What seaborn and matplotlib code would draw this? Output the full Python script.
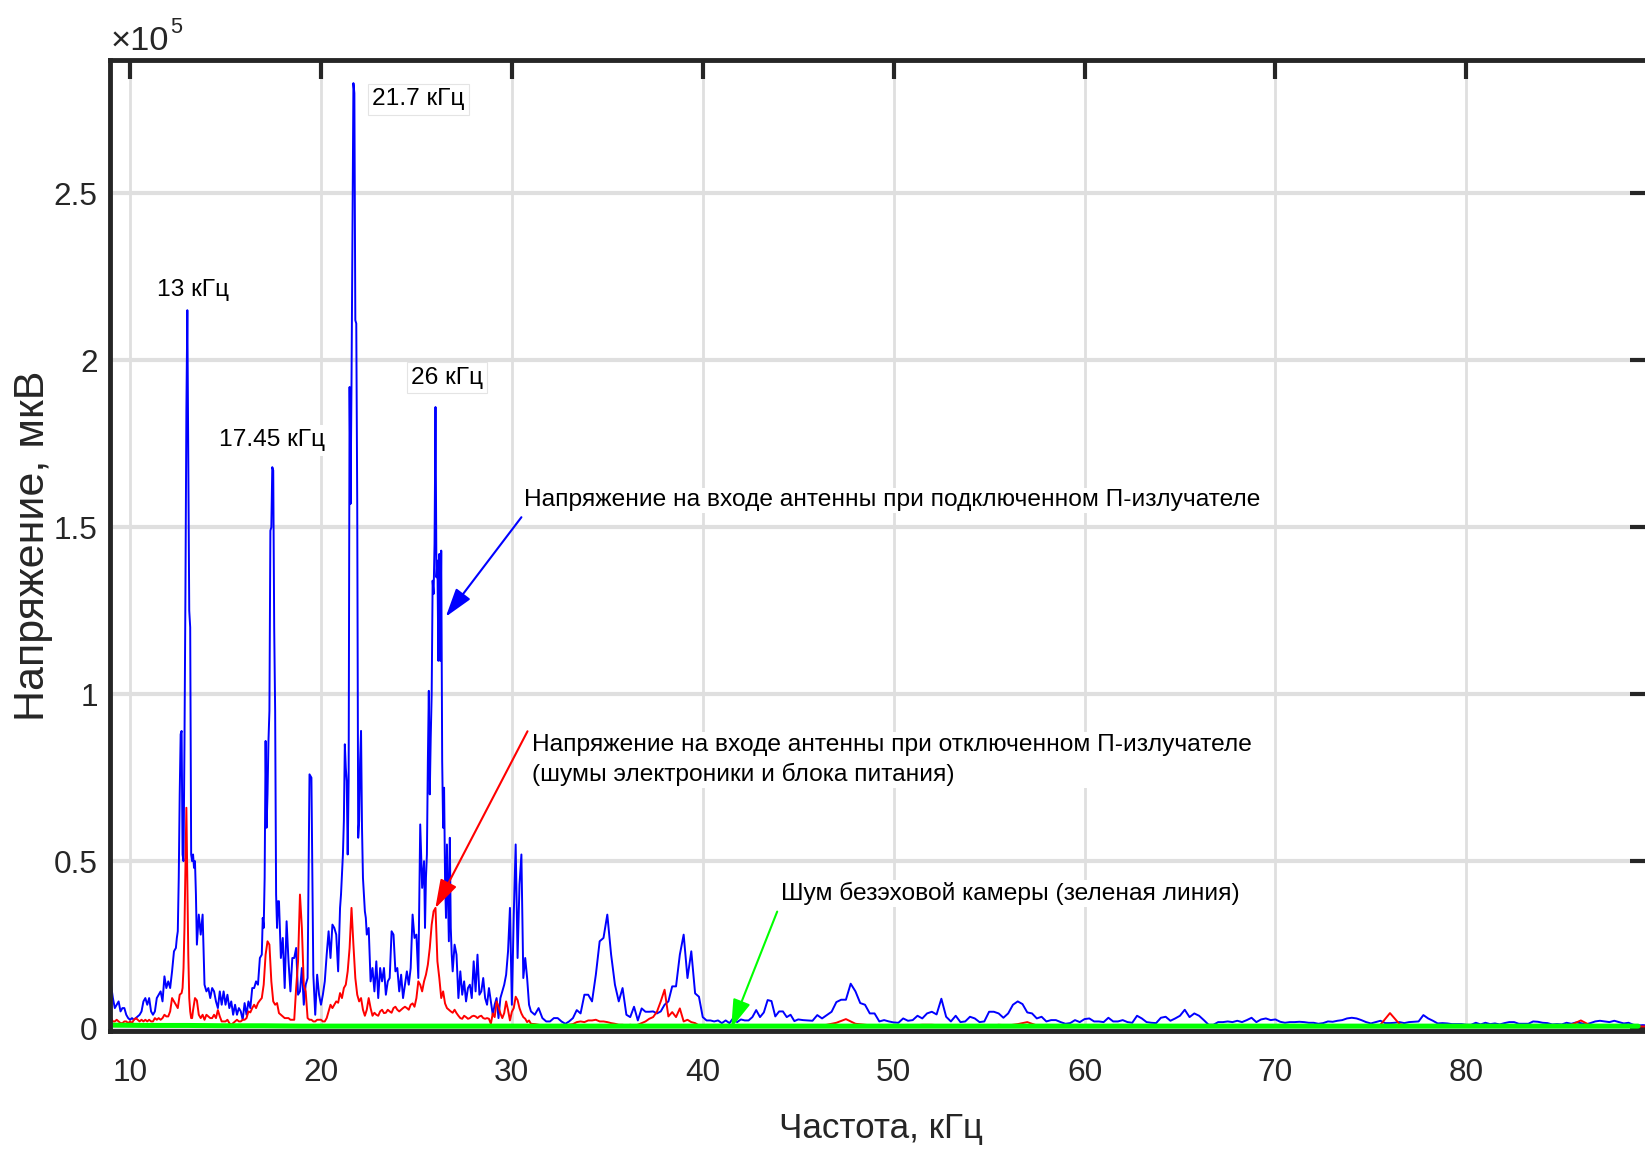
import numpy as np
import pandas as pd
import matplotlib
matplotlib.use("Agg")
import matplotlib.pyplot as plt
from matplotlib import font_manager
from matplotlib.ticker import FuncFormatter, MultipleLocator
import seaborn as sns

# Amplitudes are given in units of 10^5 uV; each segment is (start kHz, step kHz, values).
UNIT = 1e5

# --- antenna input, emitter connected (blue) ---
blue_a = [0.13, 0.09, 0.06, 0.07, 0.08, 0.05, 0.06, 0.06, 0.04, 0.03,
          0.025, 0.03, 0.025, 0.03, 0.035, 0.04, 0.05, 0.08, 0.09, 0.07,
          0.09, 0.05, 0.04, 0.05, 0.09, 0.10, 0.11, 0.08, 0.155, 0.12,
          0.14, 0.12, 0.17, 0.23, 0.24]
blue_b = [0.27, 0.29, 0.45, 0.70, 0.88, 0.89, 0.52, 0.50, 0.85, 1.30,
          1.85, 2.15, 1.70, 1.25, 1.20, 0.52, 0.50, 0.52, 0.48, 0.50,
          0.40, 0.25]
blue_c = [0.34, 0.28, 0.34, 0.13, 0.11, 0.12, 0.09, 0.12, 0.11, 0.08,
          0.06, 0.11, 0.07, 0.11, 0.07, 0.10, 0.06, 0.08, 0.04, 0.07,
          0.04, 0.06, 0.05, 0.025, 0.075, 0.04, 0.08, 0.06, 0.12, 0.12,
          0.14, 0.13, 0.21, 0.22]
blue_d = [0.33, 0.30, 0.45, 0.86, 0.60, 0.70, 0.86, 0.95, 1.49, 1.50,
          1.68, 1.67, 1.20, 0.95, 0.40, 0.30, 0.38]
blue_e = [0.38, 0.21, 0.27, 0.12, 0.32, 0.20, 0.11, 0.21, 0.21, 0.24,
          0.10, 0.11, 0.18, 0.07, 0.13, 0.15, 0.76, 0.75, 0.16, 0.04,
          0.16, 0.10, 0.07, 0.10, 0.14, 0.22, 0.29, 0.21, 0.31, 0.30,
          0.28, 0.17, 0.36]
blue_f = [0.40, 0.46, 0.52, 0.62, 0.85, 0.78, 0.74, 0.52, 0.74, 1.92,
          1.57, 1.93, 2.40, 2.83, 2.80, 2.12, 2.11, 1.57, 0.57, 0.62,
          0.80, 0.89, 0.60, 0.45, 0.40, 0.35, 0.33, 0.28]
blue_g = [0.30, 0.14, 0.18, 0.11, 0.20, 0.09, 0.18, 0.14, 0.18, 0.10,
          0.14, 0.15, 0.29, 0.28, 0.17, 0.18, 0.11, 0.16, 0.09, 0.13,
          0.17, 0.13, 0.18, 0.34, 0.27, 0.28, 0.15, 0.61, 0.42, 0.50]
blue_h = [0.30, 0.45, 0.52, 0.80, 1.01, 0.70, 0.87, 1.00, 1.34, 1.30,
          1.45, 1.86, 1.35, 1.40, 1.10, 1.42, 1.10, 1.43, 0.80, 0.60,
          0.72, 0.45, 0.33, 0.55, 0.40, 0.26, 0.57, 0.30, 0.22, 0.17]
blue_i = [0.25, 0.22, 0.09, 0.17, 0.10, 0.14, 0.08, 0.12, 0.13, 0.09,
          0.20, 0.11, 0.22, 0.10, 0.11, 0.15, 0.09, 0.07, 0.12, 0.08,
          0.04, 0.07, 0.09, 0.03, 0.09, 0.11, 0.13, 0.16, 0.23, 0.36,
          0.07, 0.34, 0.55, 0.21, 0.43, 0.52, 0.15, 0.21, 0.15, 0.07,
          0.05]
blue_j = [0.04, 0.06, 0.03, 0.02, 0.02, 0.03, 0.03, 0.02, 0.013, 0.02,
          0.03, 0.054, 0.044, 0.10, 0.10, 0.08, 0.16, 0.26, 0.27, 0.34,
          0.22, 0.13, 0.08, 0.12, 0.04, 0.033, 0.064, 0.023, 0.059, 0.049,
          0.049, 0.05, 0.044, 0.05, 0.07, 0.08, 0.125, 0.125, 0.22, 0.28,
          0.15, 0.23, 0.104, 0.094, 0.033, 0.023, 0.023, 0.02, 0.023, 0.015,
          0.023, 0.015, 0.03, 0.018, 0.026, 0.023, 0.023, 0.033, 0.054, 0.033,
          0.047, 0.084, 0.081, 0.035, 0.05, 0.05, 0.033, 0.04, 0.021]
blue_k = [0.026, 0.024, 0.023, 0.022,   # 45
          0.039, 0.029, 0.039, 0.049,   # 46
          0.078, 0.085, 0.085, 0.133,   # 47
          0.11, 0.075, 0.07, 0.044,     # 48
          0.044, 0.02, 0.024, 0.02,     # 49
          0.017, 0.016, 0.029, 0.022,   # 50
          0.024, 0.037, 0.029, 0.044,   # 51
          0.049, 0.041, 0.088, 0.034,   # 52
          0.02, 0.037, 0.018, 0.02,     # 53
          0.034, 0.029, 0.018, 0.02,    # 54
          0.049, 0.049, 0.044, 0.031,   # 55
          0.044, 0.07, 0.08, 0.072,     # 56
          0.047, 0.044, 0.029, 0.034,   # 57
          0.02, 0.024, 0.024, 0.018,    # 58
          0.013, 0.015, 0.024, 0.018,   # 59
          0.027, 0.029, 0.02, 0.02,     # 60
          0.018, 0.031, 0.02, 0.02,     # 61
          0.024, 0.018, 0.016, 0.037,   # 62
          0.029, 0.018, 0.016, 0.015,   # 63
          0.031, 0.034, 0.022, 0.029,   # 64
          0.037, 0.055, 0.033, 0.044,   # 65
          0.037, 0.024, 0.01, 0.01,     # 66
          0.018, 0.018, 0.02, 0.018,    # 67
          0.022, 0.018, 0.024, 0.031,   # 68
          0.018, 0.026, 0.029, 0.024,   # 69
          0.026, 0.019, 0.016, 0.018,   # 70
          0.018, 0.019, 0.018, 0.016,   # 71
          0.016, 0.013, 0.015, 0.02,    # 72
          0.019, 0.022, 0.024, 0.029,   # 73
          0.031, 0.029, 0.024, 0.018,   # 74
          0.014, 0.018, 0.022, 0.015,   # 75
          0.015, 0.016, 0.018, 0.015,   # 76
          0.018, 0.019, 0.02, 0.039,    # 77
          0.029, 0.022, 0.014, 0.015,   # 78
          0.014, 0.012, 0.012, 0.012,   # 79
          0.01, 0.01, 0.016, 0.011,     # 80
          0.016, 0.012, 0.014, 0.011,   # 81
          0.015, 0.018, 0.018, 0.013,   # 82
          0.013, 0.013, 0.02, 0.019,    # 83
          0.016, 0.015, 0.011, 0.012,   # 84
          0.011, 0.016, 0.013, 0.017,   # 85
          0.015, 0.011, 0.015, 0.02,    # 86
          0.022, 0.02, 0.018, 0.022,    # 87
          0.018, 0.014, 0.016, 0.01,    # 88
          0.008, 0.009, 0.008]          # 89
BLUE = [(9.0, 0.1, blue_a), (12.45, 0.05, blue_b), (13.6, 0.1, blue_c),
        (16.95, 0.05, blue_d), (17.8, 0.1, blue_e), (21.05, 0.05, blue_f),
        (22.5, 0.1, blue_g), (25.45, 0.05, blue_h), (27.0, 0.1, blue_i),
        (31.2, 0.2, blue_j), (45.0, 0.25, blue_k)]

# --- antenna input, emitter disconnected (red) ---
red_a = [0.03, 0.02, 0.02, 0.025, 0.02, 0.015, 0.015, 0.02, 0.02, 0.015,
         0.02, 0.015, 0.025, 0.03, 0.025, 0.02, 0.025, 0.02, 0.025, 0.02,
         0.025, 0.02, 0.02, 0.03, 0.025, 0.03, 0.025, 0.03, 0.04, 0.035,
         0.035, 0.05, 0.09, 0.08, 0.07, 0.06, 0.10, 0.105]
red_b = [0.12, 0.18, 0.30, 0.48, 0.66, 0.45, 0.22, 0.09, 0.05, 0.03, 0.03]
red_c = [0.054, 0.09, 0.083, 0.04, 0.03, 0.04, 0.025,                       # 13.3-13.9
         0.04, 0.035, 0.03, 0.03, 0.04, 0.03, 0.054, 0.035, 0.02, 0.02,     # 14
         0.02, 0.025, 0.015, 0.01, 0.015, 0.02, 0.025, 0.02, 0.02, 0.025,   # 15
         0.025, 0.03, 0.05, 0.047, 0.06, 0.07, 0.06, 0.075, 0.083, 0.09,    # 16
         0.13, 0.22, 0.26, 0.25, 0.14, 0.08, 0.07, 0.075, 0.045, 0.04,      # 17
         0.035, 0.03, 0.03, 0.03, 0.025, 0.025, 0.025, 0.12, 0.20, 0.40,    # 18
         0.30, 0.13, 0.11, 0.03, 0.025, 0.025, 0.02, 0.02, 0.025, 0.025,    # 19
         0.025, 0.02, 0.02, 0.03, 0.05, 0.07, 0.06, 0.07, 0.08, 0.076,      # 20
         0.105, 0.09, 0.12, 0.13, 0.17, 0.24, 0.36, 0.25, 0.15, 0.10,       # 21
         0.08, 0.09, 0.055, 0.037, 0.055, 0.09, 0.06, 0.037, 0.046, 0.04,   # 22
         0.037, 0.05, 0.055, 0.045, 0.046, 0.055, 0.05, 0.046, 0.06, 0.064, # 23
         0.055, 0.05, 0.055, 0.06, 0.064, 0.06, 0.055, 0.07, 0.074, 0.064,  # 24
         0.09, 0.14, 0.13, 0.11, 0.14, 0.16, 0.19, 0.24, 0.31, 0.35,        # 25
         0.36, 0.20, 0.15, 0.09, 0.11, 0.074, 0.06, 0.055, 0.05, 0.046,     # 26
         0.055, 0.045, 0.037, 0.03, 0.028, 0.037, 0.033, 0.028, 0.03, 0.035,  # 27
         0.037, 0.035, 0.03, 0.035, 0.037, 0.03, 0.028, 0.03, 0.028, 0.013,   # 28
         0.044, 0.033, 0.08, 0.064, 0.044, 0.03, 0.045, 0.08, 0.054, 0.023,   # 29
         0.049, 0.06, 0.094, 0.084, 0.06, 0.044, 0.033, 0.028, 0.018, 0.023,  # 30
         0.013]                                                                # 31.0
red_d = [0.012, 0.01, 0.008, 0.008, 0.008, 0.008, 0.008, 0.01, 0.008, 0.01,
         0.012, 0.018, 0.02, 0.018, 0.023, 0.023, 0.025, 0.02, 0.02, 0.018,
         0.015, 0.013, 0.01, 0.01, 0.008, 0.01, 0.008, 0.01, 0.015, 0.02,
         0.028, 0.033, 0.049, 0.08, 0.115, 0.035, 0.048, 0.033, 0.059, 0.02,
         0.025, 0.018, 0.015, 0.008, 0.006, 0.005, 0.005, 0.005, 0.005, 0.005,
         0.005, 0.005, 0.006, 0.005, 0.005, 0.006, 0.005, 0.005, 0.006, 0.005,
         0.005, 0.006, 0.005, 0.005, 0.005, 0.006, 0.005, 0.005, 0.006]
red_e = [0.005, 0.005, 0.006, 0.01, 0.016, 0.027, 0.013, 0.01, 0.007, 0.005,
         0.005, 0.006, 0.008, 0.01, 0.01, 0.008, 0.006, 0.005, 0.005, 0.005,
         0.006, 0.01, 0.008, 0.012, 0.018, 0.008, 0.005, 0.005, 0.007, 0.009,
         0.005, 0.005, 0.004, 0.005, 0.005, 0.004, 0.005, 0.005, 0.004, 0.005,
         0.005, 0.004, 0.005, 0.005, 0.005, 0.005, 0.004, 0.005, 0.005, 0.005,
         0.005, 0.004, 0.005, 0.005, 0.004, 0.005, 0.005, 0.005, 0.004, 0.005,
         0.006, 0.01, 0.045, 0.012, 0.005, 0.005, 0.004, 0.005, 0.005, 0.004,
         0.005, 0.005, 0.004, 0.005, 0.005, 0.006, 0.006, 0.005, 0.005, 0.006,
         0.008, 0.01, 0.023, 0.008, 0.006, 0.005, 0.005, 0.006, 0.005, 0.005]
RED = [(9.0, 0.1, red_a), (12.75, 0.05, red_b), (13.3, 0.1, red_c),
       (31.2, 0.2, red_d), (45.0, 0.5, red_e)]

# --- anechoic chamber noise (green) ---
green_a = [0.009, 0.008, 0.008, 0.007, 0.007, 0.006, 0.006, 0.006, 0.006, 0.006,
           0.006, 0.006, 0.006, 0.006, 0.006, 0.006, 0.006, 0.006, 0.006, 0.006,
           0.006, 0.006, 0.006, 0.006, 0.006, 0.006, 0.006, 0.006, 0.006, 0.006,
           0.006, 0.006, 0.006, 0.006, 0.006, 0.006, 0.006, 0.006, 0.006, 0.006,
           0.006]
GREEN = [(9.0, 2.0, green_a)]

peak_labels = [("13 кГц", 13.31, 2.209), ("17.45 кГц", 17.42, 1.760),
               ("21.7 кГц", 25.10, 2.781), ("26 кГц", 26.60, 1.948)]
x_ticks = [10, 20, 30, 40, 50, 60, 70, 80]


def assemble(segments):
    freq, vals = [], []
    for start, step, values in segments:
        freq.append(np.round(start + step * np.arange(len(values)), 3))
        vals.append(np.asarray(values, dtype=float))
    return pd.DataFrame({"freq": np.concatenate(freq),
                         "volt": np.concatenate(vals) * UNIT})


sns.set_style("white")
installed = {f.name for f in font_manager.fontManager.ttflist}
if "Liberation Sans Narrow" in installed:
    NARROW, K = "Liberation Sans Narrow", 1.0
else:
    NARROW, K = "Liberation Sans", 0.84
plt.rcParams["font.family"] = [NARROW, "DejaVu Sans"]
INK = "#262626"

fig = plt.figure(figsize=(16.45, 11.49), dpi=100)
ax = fig.add_axes([0.067, 0.1023, 0.933, 0.8457])

for segs, col, lw, z in [(BLUE, "#0000ff", 1.4, 3), (RED, "#ff0000", 1.4, 4),
                         (GREEN, "#00ff00", 3.6, 5)]:
    d = assemble(segs)
    sns.lineplot(data=d, x="freq", y="volt", ax=ax, color=col, linewidth=lw,
                 estimator=None, sort=False, zorder=z)

ax.set_xlim(8.96, 89.36)
ax.set_ylim(-1000, 2.9e5)
ax.set_xticks(x_ticks)
ax.yaxis.set_major_locator(MultipleLocator(0.5e5))
ax.yaxis.set_major_formatter(FuncFormatter(lambda y, _: f"{y / UNIT:g}"))

ax.xaxis.grid(True, color="#dfdfdf", linewidth=2.0)
ax.yaxis.grid(True, color="#dfdfdf", linewidth=3.0)
ax.set_axisbelow(True)

for side in ["left", "top", "bottom"]:
    ax.spines[side].set_linewidth(3.5)
    ax.spines[side].set_color(INK)
    ax.spines[side].set_zorder(6)
ax.spines["right"].set_visible(False)

ax.tick_params(direction="in", top=True, right=True, width=3.0, colors=INK,
               labelsize=27 * K)
ax.tick_params(axis="x", length=14, pad=19)
ax.tick_params(axis="y", length=11, pad=9)

ax.set_xlabel("Частота, кГц", fontsize=30 * K, color=INK)
ax.xaxis.set_label_coords(0.502, -0.083)
ax.xaxis.label.set_va("top")
ax.set_ylabel("Напряжение, мкВ", fontsize=31, color=INK,
              family=["Liberation Sans", "DejaVu Sans"])
ax.yaxis.set_label_coords(-0.0506, 0.5)
ax.yaxis.label.set_va("center")

fig.text(0.067, 0.9565, "×10", fontsize=27 * 0.92, color=INK, ha="left", va="baseline")
fig.text(0.1035, 0.971, "5", fontsize=17 * 0.92, color=INK, ha="left", va="baseline")

for i, (txt, fx, fy) in enumerate(peak_labels):
    edge = "#e4e4e4" if i >= 2 else "none"
    ax.text(fx, fy * UNIT, txt, fontsize=21 * K, ha="center", va="center",
            color="black", zorder=8,
            bbox=dict(facecolor="white", edgecolor=edge, linewidth=0.8, pad=3))

notes = [
    ("Напряжение на входе антенны при подключенном П-излучателе",
     (30.66, 1.581), (30.50, 1.53), (26.54, 1.232), "#0000ff"),
    ("Напряжение на входе антенны при отключенном П-излучателе\n"
     "(шумы электроники и блока питания)",
     (31.04, 0.803), (30.82, 0.889), (25.99, 0.359), "#ff0000"),
    ("Шум безэховой камеры (зеленая линия)",
     (44.12, 0.403), (43.90, 0.349), (41.49, 0.0), "#00ff00"),
]
for txt, (tx, ty), (sx, sy), (hx, hy), col in notes:
    ax.annotate("", xy=(hx, hy * UNIT), xytext=(sx, sy * UNIT), zorder=7,
                arrowprops=dict(arrowstyle="-|>,head_length=0.8,head_width=0.25",
                                color=col, lw=1.5, shrinkA=0, shrinkB=0,
                                mutation_scale=22))
    ax.text(tx, ty * UNIT, txt, fontsize=21 * K, ha="left", va="center",
            color="black", linespacing=1.4, zorder=8,
            bbox=dict(facecolor="white", edgecolor="none", pad=1))

fig.savefig("out.png", dpi=100)
